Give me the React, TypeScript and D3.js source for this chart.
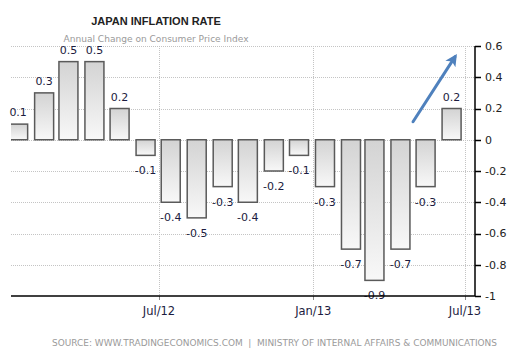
import React from "react";
import * as d3 from "d3";

// ---- data ----
const months: string[] = [
  "2012-01", "2012-02", "2012-03", "2012-04", "2012-05", "2012-06",
  "2012-07", "2012-08", "2012-09", "2012-10", "2012-11", "2012-12",
  "2013-01", "2013-02", "2013-03", "2013-04", "2013-05", "2013-06",
];
const values: number[] = [
  0.1, 0.3, 0.5, 0.5, 0.2, -0.1, -0.4, -0.5, -0.3, -0.4, -0.2, -0.1,
  -0.3, -0.7, -0.9, -0.7, -0.3, 0.2,
];
const yTicks: number[] = [0.6, 0.4, 0.2, 0, -0.2, -0.4, -0.6, -0.8, -1];
const xTickDates: string[] = ["2012-07-01", "2013-01-01", "2013-07-01"];
const xTickLabels: string[] = ["Jul/12", "Jan/13", "Jul/13"];
const arrowFrom = { date: "2013-04-30", value: 0.115 };
const arrowTo = { date: "2013-06-19", value: 0.53 };

const title = "JAPAN INFLATION RATE";
const subtitle = "Annual Change on Consumer Price Index";
const source =
  "SOURCE: WWW.TRADINGECONOMICS.COM  |  MINISTRY OF INTERNAL AFFAIRS & COMMUNICATIONS";

const W = 508;
const H = 357;
const plotLeft = 11;
const plotRight = 475;
const plotTop = 46;
const plotBottom = 296;

const parseDay = d3.utcParse("%Y-%m-%d");
const parseMonth = d3.utcParse("%Y-%m");

export default function App() {
  const x = d3
    .scaleUtc()
    .domain([parseDay("2012-01-01")!, parseDay("2013-07-01")!])
    .range([6.4, 465]);
  const y = d3.scaleLinear().domain([-1, 0.6]).range([plotBottom, plotTop]);

  const barW = 19;
  const bars = months.map((m, i) => {
    const start = parseMonth(m)!;
    const mid = d3.utcDay.offset(start, 14);
    const cx = x(mid);
    const v = values[i];
    return {
      cx,
      v,
      x0: cx - barW / 2,
      yTop: Math.min(y(v), y(0)),
      h: Math.abs(y(v) - y(0)),
    };
  });

  const fmt = (v: number) => (v < 0 ? "-" : "") + d3.format("")(Math.abs(v));
  const labelFont = "'DejaVu Sans', Verdana, sans-serif";
  const labelColor = "#1c1c40";

  const ax1 = x(parseDay(arrowFrom.date)!);
  const ay1 = y(arrowFrom.value);
  const ax2 = x(parseDay(arrowTo.date)!);
  const ay2 = y(arrowTo.value);

  return (
    <svg
      width={W}
      height={H}
      style={{ position: "absolute", left: 0, top: 0, background: "#fff" }}
    >
      <defs>
        <linearGradient id="barGrad" x1="0" y1="0" x2="0" y2="1">
          <stop offset="0" stopColor="#d3d3d3" />
          <stop offset="1" stopColor="#f8f8f8" />
        </linearGradient>
        <clipPath id="plotClip">
          <rect x={plotLeft} y={0} width={plotRight - plotLeft} height={plotBottom + 2} />
        </clipPath>
        <marker
          id="arrowHead"
          viewBox="0 0 10 10"
          refX="7"
          refY="5"
          markerWidth="12"
          markerHeight="12"
          markerUnits="userSpaceOnUse"
          orient="auto"
        >
          <path d="M0,0 L10,5 L0,10 L2.5,5 Z" fill="#4f81bd" />
        </marker>
      </defs>

      {/* title */}
      <text
        x={156}
        y={25}
        textAnchor="middle"
        fontFamily="'Liberation Sans', Arial, sans-serif"
        fontWeight="bold"
        fontSize={11}
        fill="#222"
      >
        {title}
      </text>
      <text
        x={156}
        y={41.5}
        textAnchor="middle"
        fontFamily={labelFont}
        fontSize={9}
        fill="#9a9a9a"
        textLength={185}
        lengthAdjust="spacingAndGlyphs"
      >
        {subtitle}
      </text>

      {/* horizontal grid */}
      {yTicks
        .filter((t) => t !== -1)
        .map((t) => (
          <line
            key={"hg" + t}
            x1={plotLeft}
            x2={plotRight}
            y1={Math.round(y(t)) + 0.5}
            y2={Math.round(y(t)) + 0.5}
            stroke="#c4c4c4"
            strokeDasharray="1,1"
          />
        ))}
      {/* vertical grid */}
      {xTickDates.map((d) => {
        const xx = Math.round(x(parseDay(d)!)) + 0.5;
        return (
          <g key={"vg" + d}>
            <line
              x1={xx}
              x2={xx}
              y1={plotTop}
              y2={plotBottom}
              stroke="#c4c4c4"
              strokeDasharray="1,1"
            />
            <line x1={xx} x2={xx} y1={plotBottom} y2={plotBottom + 4} stroke="#888" />
          </g>
        );
      })}

      {/* bars */}
      <g clipPath="url(#plotClip)">
        {bars.map((b, i) => (
          <rect
            key={"b" + i}
            x={b.x0}
            y={b.yTop}
            width={barW}
            height={b.h}
            fill="url(#barGrad)"
            stroke="#5a5a5a"
            strokeWidth={1.5}
          />
        ))}
      </g>

      {/* value labels */}
      {bars.map((b, i) => (
        <text
          key={"l" + i}
          x={b.cx}
          y={b.v >= 0 ? y(b.v) - 8 : y(b.v) + 19}
          textAnchor="middle"
          fontFamily={labelFont}
          fontSize={11}
          fill={labelColor}
        >
          {fmt(b.v)}
        </text>
      ))}

      {/* axes */}
      <line x1={plotLeft} x2={plotRight} y1={plotBottom} y2={plotBottom} stroke="#000" strokeWidth={1.5} />
      <line x1={plotRight} x2={plotRight} y1={plotTop} y2={plotBottom} stroke="#000" strokeWidth={1.5} />
      {yTicks.map((t) => (
        <g key={"yt" + t}>
          <line
            x1={plotRight}
            x2={plotRight + 6}
            y1={Math.round(y(t)) + 0.5}
            y2={Math.round(y(t)) + 0.5}
            stroke="#000"
            strokeWidth={1.5}
          />
          <text
            x={plotRight + 10}
            y={y(t)}
            dy="0.36em"
            fontFamily={labelFont}
            fontSize={11}
            fill="#222"
          >
            {fmt(t)}
          </text>
        </g>
      ))}
      {xTickDates.map((d, i) => (
        <text
          key={"xt" + d}
          x={x(parseDay(d)!)}
          y={315}
          textAnchor="middle"
          fontFamily={labelFont}
          fontSize={11.5}
          fill={labelColor}
        >
          {xTickLabels[i]}
        </text>
      ))}

      {/* arrow annotation */}
      <line
        x1={ax1}
        y1={ay1}
        x2={ax2}
        y2={ay2}
        stroke="#4f81bd"
        strokeWidth={3}
        strokeLinecap="round"
        markerEnd="url(#arrowHead)"
      />

      {/* source */}
      <text
        x={274.5}
        y={346}
        textAnchor="middle"
        fontFamily={labelFont}
        fontSize={8}
        fill="#9a9a9a"
        textLength={445}
        lengthAdjust="spacingAndGlyphs"
        style={{ whiteSpace: "pre" }}
      >
        {source}
      </text>
    </svg>
  );
}
